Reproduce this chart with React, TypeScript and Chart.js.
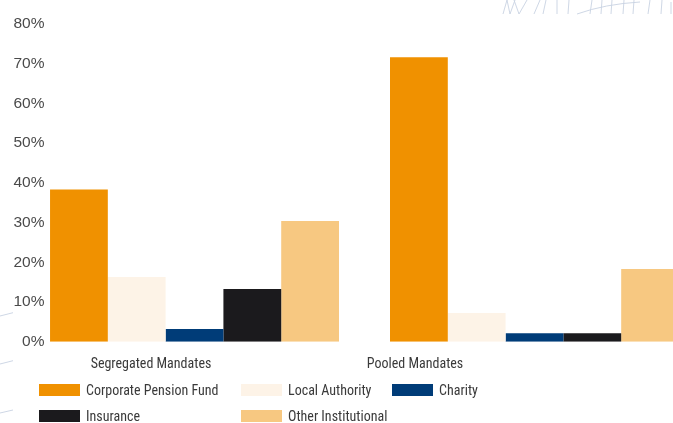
import React, { useEffect, useRef } from 'react';
import { Chart, registerables } from 'chart.js';

Chart.register(...registerables);

// ---- data ----
const CATEGORIES = ['Segregated Mandates', 'Pooled Mandates'];
const SERIES_NAMES = [
  'Corporate Pension Fund',
  'Local Authority',
  'Charity',
  'Insurance',
  'Other Institutional',
];
const CORPORATE_PENSION_FUND = [38.3, 71.6];
const LOCAL_AUTHORITY = [16.3, 7.2];
const CHARITY = [3.2, 2.1];
const INSURANCE = [13.3, 2.1];
const OTHER_INSTITUTIONAL = [30.4, 18.3];
const Y_TICK_VALUES = [0, 10, 20, 30, 40, 50, 60, 70, 80];
const Y_TICK_LABELS = ['0%', '10%', '20%', '30%', '40%', '50%', '60%', '70%', '80%'];

// ---- styles / layout ----
const COLORS = ['#F09100', '#FDF3E7', '#003C78', '#1B1A1D', '#F7C881'];
const X_MIN = -0.425;
const X_MAX = 1.4074;
const LABEL_SHIFT = [-0.128, -0.3515];
const CONDENSED = "'Roboto', 'Liberation Sans', Arial, sans-serif";
const REGULAR = "'Liberation Sans', Arial, sans-serif";
const DECOR = '#c8d2e2';

const SERIES = [
  CORPORATE_PENSION_FUND,
  LOCAL_AUTHORITY,
  CHARITY,
  INSURANCE,
  OTHER_INSTITUTIONAL,
];

// background page decoration (faint sketch lines)
const DECOR_LINES = [
  [0, 316, 13, 312.7],
  [0, 364, 13, 360.7],
  [0, 413, 13, 410],
  [503, 14, 507, 0],
  [507, 0, 510, 14],
  [510, 14, 515, 0],
  [514, 0, 519, 14],
  [519, 14, 527, 0],
  [534, 14, 540, 0],
  [543, 14, 546, 0],
  [557, 14, 557, 0],
  [568, 14, 569, 0],
  [590, 14, 592, 0],
  [601, 14, 602, 0],
  [611, 14, 612, 0],
  [623, 14, 624, 0],
  [633, 14, 634, 0],
  [648, 14, 650, 0],
  [661, 14, 662, 0],
  [671, 14, 671, 2],
];

export default function App() {
  const canvasRef = useRef<HTMLCanvasElement | null>(null);

  useEffect(() => {
    const canvas = canvasRef.current;
    if (!canvas) return;
    const chart = new Chart(canvas, {
      type: 'bar',
      data: {
        datasets: SERIES.map((values, s) => ({
          label: SERIES_NAMES[s],
          data: values.map((v, i) => ({ x: i, y: v })),
          backgroundColor: COLORS[s],
          borderWidth: 0,
          xAxisID: 'x',
          yAxisID: 'y',
        })),
      },
      options: {
        responsive: false,
        animation: false,
        events: [],
        layout: { padding: { left: 8, right: 0, top: 24, bottom: 36.5 } },
        datasets: { bar: { categoryPercentage: 0.85, barPercentage: 1 } },
        plugins: {
          legend: { display: false },
          tooltip: { enabled: false },
        },
        scales: {
          x: {
            type: 'linear',
            display: false,
            offset: false,
            min: X_MIN,
            max: X_MAX,
            bounds: 'data',
            afterBuildTicks: (ax: any) => {
              ax.ticks = CATEGORIES.map((_, i) => ({ value: i }));
            },
          },
          xl: {
            type: 'linear',
            position: 'bottom',
            offset: false,
            min: X_MIN,
            max: X_MAX,
            bounds: 'data',
            grid: { display: false, drawTicks: false },
            border: { display: false },
            afterBuildTicks: (ax: any) => {
              ax.ticks = CATEGORIES.map((_, i) => ({ value: i + LABEL_SHIFT[i] }));
            },
            ticks: {
              autoSkip: false,
              maxRotation: 0,
              padding: 14,
              color: '#3a3a3a',
              font: { family: CONDENSED, size: 14, weight: 'condensed' },
              callback: (_v: any, i: number) => CATEGORIES[i],
            },
          },
          y: {
            type: 'linear',
            position: 'left',
            min: 0,
            max: 80,
            grid: { display: false, drawTicks: false },
            border: { display: false },
            afterBuildTicks: (ax: any) => {
              ax.ticks = Y_TICK_VALUES.map((v) => ({ value: v }));
            },
            ticks: {
              padding: 5.5,
              color: '#4a4a4a',
              font: { family: REGULAR, size: 15.5 },
              callback: (_v: any, i: number) => Y_TICK_LABELS[i],
            },
          },
        },
      } as any,
    });
    return () => chart.destroy();
  }, []);

  return (
    <div
      style={{
        position: 'absolute',
        left: 0,
        top: 0,
        width: 673,
        height: 423,
        overflow: 'hidden',
        background: '#ffffff',
      }}
    >
      <svg
        width={673}
        height={423}
        style={{ position: 'absolute', left: 0, top: 0 }}
      >
        {DECOR_LINES.map((l, i) => (
          <line key={i} x1={l[0]} y1={l[1]} x2={l[2]} y2={l[3]} stroke={DECOR} strokeWidth={0.9} />
        ))}
        <path d="M577 14 Q605 4 640 2" stroke={DECOR} strokeWidth={0.9} fill="none" />
      </svg>
      <canvas
        ref={canvasRef}
        width={673}
        height={423}
        style={{ display: 'block', position: 'absolute', left: 0, top: 0 }}
      />
      <div
        style={{
          position: 'absolute',
          left: 39,
          top: 377,
          display: 'grid',
          gridTemplateColumns: '202px 151px auto',
          gridAutoRows: '26px',
          fontFamily: CONDENSED,
          fontStretch: 'condensed',
          fontSize: 14,
          color: '#3a3a3a',
        }}
      >
        {SERIES_NAMES.map((name, s) => (
          <div key={name} style={{ display: 'flex', alignItems: 'center', whiteSpace: 'nowrap' }}>
            <span
              style={{
                display: 'inline-block',
                width: 41,
                height: 12,
                background: COLORS[s],
                marginRight: 6,
                flex: '0 0 auto',
              }}
            />
            <span>{name}</span>
          </div>
        ))}
      </div>
    </div>
  );
}
